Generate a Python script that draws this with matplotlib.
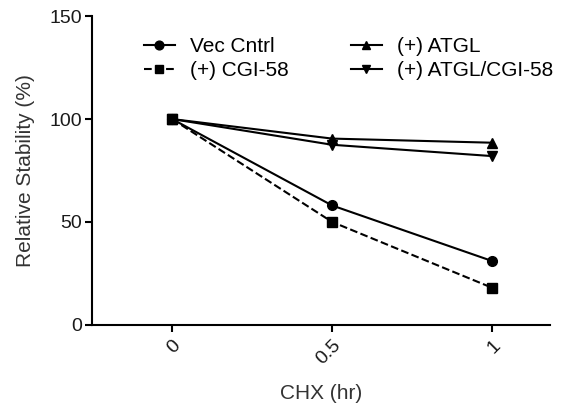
import matplotlib
matplotlib.use('Agg')
import matplotlib.pyplot as plt

plt.rcParams['font.family'] = ['Liberation Sans', 'DejaVu Sans']

hours = [0, 0.5, 1]
tick_labels = ['0', '0.5', '1']
vec_cntrl = [100, 58, 31]
cgi58 = [100, 50, 18]
atgl = [100, 90.5, 88.5]
atgl_cgi58 = [100, 87.5, 82]

fig = plt.figure(figsize=(5.65, 4.04), dpi=100)
ax = fig.add_axes([0.163, 0.196, 0.81, 0.764])

ax.plot(hours, vec_cntrl, '-', marker='o', color='black', lw=1.5, ms=7, label='Vec Cntrl')
ax.plot(hours, atgl, '-', marker='^', color='black', lw=1.5, ms=7, label='(+) ATGL')
ax.plot(hours, cgi58, '--', marker='s', color='black', lw=1.5, ms=7, label='(+) CGI-58')
ax.plot(hours, atgl_cgi58, '-', marker='v', color='black', lw=1.5, ms=7, label='(+) ATGL/CGI-58')

ax.set_xlim(-0.25, 1.18)
ax.set_ylim(0, 150)
ax.set_yticks([0, 50, 100, 150])
ax.set_xticks(hours)
ax.set_xticklabels(tick_labels, rotation=45, ha='right', rotation_mode='anchor')
ax.tick_params(axis='both', labelsize=14, width=1.5, length=5, color='black', labelcolor='#1a1a1a')
ax.tick_params(axis='y', pad=2)

for side in ['top', 'right']:
    ax.spines[side].set_visible(False)
for side in ['left', 'bottom']:
    ax.spines[side].set_linewidth(1.5)

ax.set_xlabel('CHX (hr)', fontsize=15, color='#333333')
ax.set_ylabel('Relative Stability (%)', fontsize=15, color='#333333')
ax.xaxis.set_label_coords(0.5, -0.192)
ax.yaxis.set_label_coords(-0.124, 0.5)

# legend order: row 1 Vec Cntrl / ATGL, row 2 CGI-58 / ATGL-CGI-58
handles, labels = ax.get_legend_handles_labels()
order = [0, 2, 1, 3]
ax.legend([handles[i] for i in order], [labels[i] for i in order], ncol=2,
          loc='upper left', bbox_to_anchor=(0.09, 0.966), frameon=False,
          borderpad=0, fontsize=15, handlelength=1.5, columnspacing=3.0,
          labelspacing=0.25, handletextpad=0.7, markerscale=0.9)

plt.savefig('out.png', dpi=100)
